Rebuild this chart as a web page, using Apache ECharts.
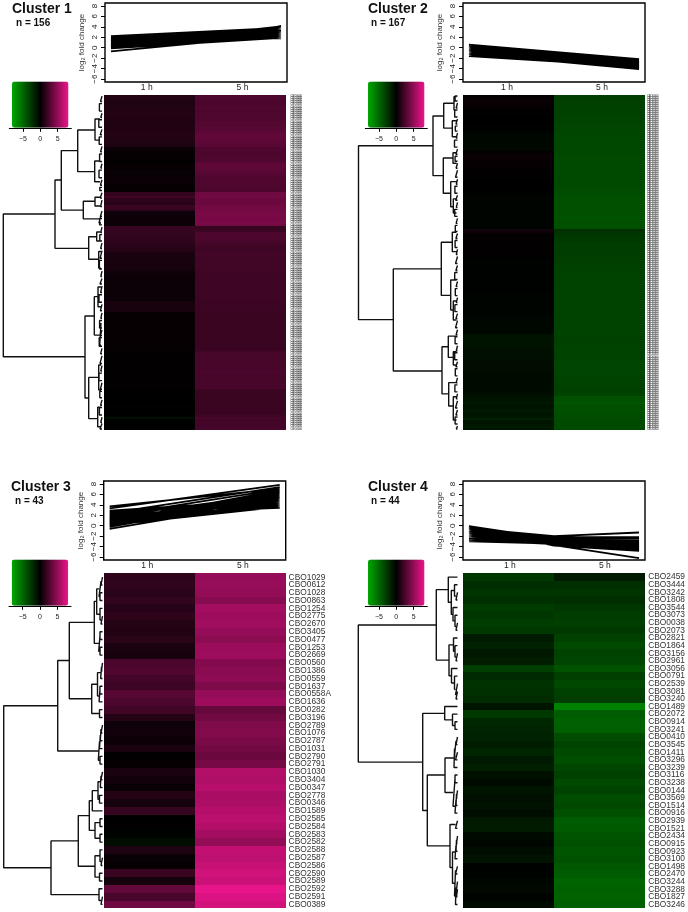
<!DOCTYPE html>
<html>
<head>
<meta charset="utf-8">
<style>
  html, body { margin: 0; padding: 0; background: #fff; }
  #main { width: 688px; height: 912px; }
</style>
<script src="https://cdn.jsdelivr.net/npm/echarts@6/dist/echarts.min.js"></script>
</head>
<body>
<div id="main"></div>
<script>
const hours = ['1 h', '5 h'];
const yTicks = [-6, -4, -2, 0, 2, 4, 6, 8];
const keyTicks = [-5, 0, 5];

// log2 fold change per gene, top row of the heatmap first
const c1Hour1 = [
  1.1,1.1,1.1,1.0,1.0,1.1,1.1,1.1,1.2,1.2,
  1.1,1.1,1.0,1.0,1.1,1.1,1.1,1.2,1.2,1.1,
  1.1,1.1,1.0,1.0,0.3,0.3,0.2,0.2,0.2,0.2,
  0.1,0.1,0.2,0.2,0.2,0.3,0.3,0.3,0.4,0.4,
  0.3,0.3,0.2,0.2,0.2,1.7,1.7,2.2,1.5,1.5,
  1.3,1.9,1.9,1.6,0.5,0.5,0.5,0.4,0.4,0.4,
  0.4,1.8,1.8,1.8,1.7,1.7,1.6,1.6,1.5,1.5,
  1.4,1.3,1.3,0.9,0.9,0.9,0.8,0.8,0.8,0.8,
  0.8,0.7,0.5,0.5,0.4,0.4,0.4,0.4,0.4,0.4,
  0.4,0.4,0.4,0.4,0.4,0.4,0.8,0.8,0.8,0.8,
  0.8,0.2,0.2,0.2,0.2,0.2,0.2,0.2,0.2,0.2,
  0.2,0.2,0.2,0.2,0.2,0.2,0.2,0.2,0.2,0.1,
  0.1,0.1,0.1,0.1,0.1,0.1,0.1,0.1,0.1,0.1,
  0.1,0.1,0.1,0.1,0.1,0.1,0.1,0.0,0.0,0.0,
  0.0,0.0,0.0,0.0,-0.1,-0.1,0.0,0.0,-0.1,-0.1,
  -0.7,-0.1,0.0,0.0,0.0,0.0
];
const c1Hour5 = [
  2.6,2.6,2.6,2.5,2.5,2.7,2.7,2.6,2.6,2.7,
  2.7,2.7,2.8,2.8,2.8,2.9,3.0,3.2,3.3,3.3,
  3.2,3.2,3.1,3.0,2.7,2.7,2.6,2.6,2.6,2.7,
  2.7,3.1,3.2,3.2,3.1,3.1,2.9,2.8,2.7,2.7,
  2.7,2.7,2.7,2.6,2.6,3.7,3.7,3.8,3.6,3.6,
  3.6,3.8,3.8,3.9,4.0,4.1,4.0,4.0,4.0,4.1,
  3.9,1.8,1.9,2.0,2.6,2.6,2.6,2.5,2.4,2.3,
  2.2,2.1,2.2,2.3,2.3,2.2,2.2,2.2,2.2,2.2,
  2.2,2.2,2.1,2.1,2.1,2.1,2.1,2.1,2.1,2.1,
  2.1,2.1,2.1,2.1,2.1,2.0,2.0,2.0,2.0,2.0,
  2.0,1.9,1.9,1.9,1.9,1.9,1.9,1.9,1.9,1.9,
  1.9,1.9,1.9,1.9,1.9,1.9,1.9,1.9,1.9,2.3,
  2.4,2.4,2.4,2.4,2.4,2.4,2.4,2.4,2.5,2.5,
  2.4,2.4,2.4,2.4,2.4,2.4,2.4,1.9,1.9,1.9,
  1.9,1.9,1.9,1.9,1.9,1.9,1.9,1.9,1.9,2.2,
  2.4,2.3,2.3,2.3,2.3,2.4
];
const c2Hour1 = [
  0.1,0.2,0.3,0.3,0.2,0.2,0.1,0.1,0.1,0.1,
  0.0,0.0,0.0,0.0,0.0,-0.1,-0.1,-0.1,-0.2,-0.3,
  -0.3,-0.3,-0.3,-0.3,-0.3,-0.3,-0.3,-0.3,0.1,0.2,
  0.3,0.3,0.2,0.2,0.2,0.2,0.2,0.1,0.1,0.1,
  0.1,0.1,0.0,0.0,0.0,0.0,0.0,0.0,-0.1,-0.1,
  -0.2,-0.2,-0.2,-0.2,-0.2,-0.2,-0.2,-0.2,-0.2,-0.2,
  -0.2,-0.2,-0.2,-0.2,-0.2,-0.2,-0.2,0.6,0.5,0.2,
  0.1,0.1,0.1,0.1,0.1,0.1,0.1,0.1,0.1,0.1,
  0.0,0.0,-0.1,-0.1,-0.1,-0.1,-0.1,-0.1,-0.1,-0.1,
  -0.1,-0.1,-0.1,-0.1,-0.1,-0.1,-0.1,-0.1,-0.2,-0.2,
  -0.2,-0.2,-0.2,-0.2,-0.2,-0.2,-0.2,-0.2,-0.2,-0.2,
  -0.3,-0.3,-0.3,-0.3,-0.3,-0.3,-0.3,-0.3,-0.3,-0.8,
  -0.9,-0.9,-0.9,-0.9,-1.0,-0.8,-0.8,-0.7,-0.7,-0.7,
  -0.7,-0.7,-0.6,-0.6,-0.6,-0.6,-0.6,-0.6,-0.5,-0.5,
  -0.5,-0.5,-0.5,-0.5,-0.5,-0.5,-0.5,-0.5,-0.6,-0.7,
  -0.9,-0.9,-1.0,-1.1,-1.0,-0.9,-1.0,-1.2,-1.0,-1.0,
  -1.1,-1.6,-1.0,-1.0,-1.1,-1.3,-1.0
];
const c2Hour5 = [
  -3.0,-3.0,-3.0,-3.1,-3.1,-3.1,-3.1,-3.1,-3.1,-3.1,
  -3.2,-3.2,-3.2,-3.2,-3.3,-3.3,-3.3,-3.3,-3.3,-3.3,
  -3.4,-3.4,-3.4,-3.4,-3.4,-3.4,-3.4,-3.4,-3.4,-3.4,
  -3.5,-3.5,-3.5,-3.5,-3.5,-3.5,-3.5,-3.5,-3.5,-3.5,
  -3.5,-3.5,-3.5,-3.5,-3.5,-3.5,-3.6,-3.6,-3.6,-3.6,
  -3.8,-3.8,-3.8,-3.8,-3.8,-3.8,-3.8,-3.8,-3.8,-3.8,
  -3.9,-4.0,-3.8,-3.8,-3.8,-3.8,-3.8,-2.2,-2.4,-2.6,
  -2.6,-2.7,-2.7,-2.8,-2.9,-2.9,-2.9,-2.9,-2.9,-2.9,
  -3.0,-3.0,-3.0,-3.0,-3.1,-3.1,-3.1,-3.1,-3.1,-3.2,
  -3.2,-3.2,-3.2,-3.2,-3.2,-3.2,-3.2,-3.2,-3.2,-3.2,
  -3.2,-3.2,-3.2,-3.2,-3.2,-3.2,-3.2,-3.2,-3.2,-3.2,
  -3.2,-3.2,-3.2,-3.2,-3.2,-3.2,-3.2,-3.2,-3.2,-3.2,
  -3.1,-3.1,-3.1,-3.1,-3.1,-3.2,-3.2,-3.2,-3.2,-3.2,
  -3.2,-3.2,-3.3,-3.3,-3.3,-3.3,-3.3,-3.3,-3.3,-3.3,
  -3.2,-3.2,-3.2,-3.2,-3.2,-3.2,-3.1,-3.1,-3.2,-3.2,
  -3.8,-3.9,-3.9,-4.1,-3.9,-3.8,-3.8,-3.8,-3.7,-3.7,
  -3.6,-3.6,-3.5,-3.5,-3.5,-3.5,-3.5
];
const c3Hour1 = [1.5,1.6,1.4,1.7,1.3,1.5,1.2,1.1,1.4,0.9,0.8,2.5,2.7,2.3,2.0,2.9,2.6,2.2,1.2,0.5,0.6,0.4,
  0.9,0.1,0.2,0.9,0.6,0.3,1.2,0.7,1.8,0.0,0.1,-0.2,-0.6,1.0,0.3,0.2,1.9,0.7,3.3,2.4,3.7];
const c3Hour5 = [5.0,5.1,4.9,4.5,5.5,5.3,5.4,5.0,4.7,5.2,5.3,4.4,4.6,4.8,4.2,5.0,5.3,3.4,3.8,4.3,4.4,4.1,
  3.9,3.6,4.0,6.0,5.9,6.2,5.7,5.8,6.1,6.3,6.0,5.5,4.9,6.5,6.4,6.7,7.0,6.8,7.8,7.4,7.1];
const c4Hour1 = [-2.6,-2.2,-2.5,-2.3,-2.8,-2.6,-2.9,-2.7,-1.3,-1.6,-1.1,-1.4,-3.0,-2.0,-2.4,-2.3,-2.1,-1.0,-2.7,
  -1.9,-1.7,-1.6,-1.4,-1.8,-1.2,-1.5,-0.8,-0.5,-1.0,-0.7,-0.9,-0.6,-1.2,-1.3,-0.5,-0.3,-0.6,-0.9,-0.1,-0.2,-0.3,-0.4,-0.2,-0.5];
// the cluster 4 lines bend half way along the plot
const c4Middle = [-2.0,-2.3,-2.6,-2.2,-2.7,-2.9,-3.3,-2.8,-2.1,-2.5,-2.0,-2.3,-3.4,-2.6,-2.9,-2.7,-2.5,-3.7,-3.5,
  -3.1,-2.9,-2.6,-2.2,-2.8,-2.4,-2.5,-2.1,-2.0,-2.3,-2.4,-2.6,-2.3,-3.0,-3.2,-2.7,-2.4,-2.8,-3.0,-2.5,-2.7,-3.8,-3.1,-3.3,-2.9];
const c4Hour5 = [-1.3,-2.3,-2.5,-2.2,-2.6,-2.8,-3.0,-2.7,-3.1,-3.5,-3.2,-3.3,-3.9,-3.0,-3.4,-3.1,-2.9,-6.2,-4.4,
  -4.6,-4.5,-3.6,-3.2,-3.5,-3.7,-3.3,-3.1,-3.5,-3.2,-3.6,-3.4,-3.8,-4.4,-4.3,-4.0,-3.8,-4.1,-3.9,-4.2,-4.4,-4.8,-4.6,-4.7,-4.5];

const c3Genes = ['CBO1029','CBO0612','CBO1028','CBO0863','CBO1254','CBO2775','CBO2670','CBO3405','CBO0477','CBO1253','CBO2669',
  'CBO0560','CBO1386','CBO0559','CBO1637','CBO0558A','CBO1636','CBO0282','CBO3196','CBO2789','CBO1076','CBO2787','CBO1031',
  'CBO2790','CBO2791','CBO1030','CBO3404','CBO0347','CBO2778','CBO0346','CBO1589','CBO2585','CBO2584','CBO2583','CBO2582',
  'CBO2588','CBO2587','CBO2586','CBO2590','CBO2589','CBO2592','CBO2591','CBO0389'];
const c4Genes = ['CBO2459','CBO3444','CBO3242','CBO1808','CBO3544','CBO3073','CBO0038','CBO2073','CBO2821','CBO1864','CBO3156',
  'CBO2961','CBO3056','CBO0791','CBO2539','CBO3081','CBO3240','CBO1489','CBO2072','CBO0914','CBO3241','CBO0410','CBO3545',
  'CBO1411','CBO3296','CBO3239','CBO3116','CBO3238','CBO0144','CBO3569','CBO1514','CBO0916','CBO2939','CBO1521','CBO2434',
  'CBO0915','CBO0923','CBO3100','CBO1498','CBO2470','CBO3244','CBO3288','CBO1827','CBO3246'];
// gene ids of clusters 1 and 2 are not legible at this size
const tinyGene = 'CBO0000';

// dendrogram merges: [height, row of child A, row of child B, height of A, height of B]
const c1Merges = [
  [98.7,55.4,121.9,47,17],[47,39.6,71.4,40.7,13.3],[40.7,25.9,53.6,24.3,18.7],[24.3,16.3,35.7,7,7.3],
  [7,11.2,21,2,2],[7.3,30.7,40.4,2,2],[18.7,49.5,57.7,7,3],[7,47.6,51.7,1,1],[3,55.9,59.6,1,1],
  [13.3,66,76.5,5.3,3.3],[5.3,63.8,68,1,1],[3.3,72.9,80.6,1,1],[17,102.9,141.1,7.7,13.3],[7.7,93.9,111.8,4,2.3],
  [4,89.4,98.6,1,1],[2.3,106.2,116.4,1,1],[13.3,131.5,150.7,3.3,4.3],[3.3,125.7,137.4,1,1],[4.3,145.4,154.5,1,1],
  [1.5,0.5,3,0,0],[2.6,4,7.5,0,0],[1.2,8.5,10.5,0,0],[3.2,11.5,15,0,0],[1.8,16,18.5,0,0],[2.8,19.5,23,0,0],
  [1.4,24,26.5,0,0],[2.4,27.5,31,0,0],[1.2,32,34,0,0],[3,35,38.5,0,0],[1.6,39.5,42,0,0],[2.2,43,44.5,0,0],
  [1.8,45.5,48,0,0],[1.4,49,52,0,0],[1.6,54,56.5,0,0],[2.4,57.5,60.5,0,0],[1.2,61.5,64,0,0],[2.2,65,68,0,0],
  [1.4,69,71.5,0,0],[1.8,72.5,76,0,0],[2.6,77,81,0,0],[1.2,82,84.5,0,0],[2,85.5,88,0,0],[1.4,89,92,0,0],
  [3,93,96.5,0,0],[1.6,97.5,100.5,0,0],[1.2,101.5,104,0,0],[2.4,105,108.5,0,0],[1.6,109.5,112,0,0],[2.8,113,117,0,0],
  [1.4,118,120.5,0,0],[2,121.5,125,0,0],[1.2,126,128.5,0,0],[3,129.5,133,0,0],[1.6,134,137,0,0],[2.2,138,141,0,0],
  [1.4,142,144.5,0,0],[2.6,145.5,149,0,0],[1.2,150,152.5,0,0],[2,153,155.5,0,0]
];
const c2Merges = [
  [99,25.3,112,24.5,64.2],[24.5,10.5,40.2,13.8,14.2],[13.8,4.1,16.5,3.5,5.2],[3.5,0.8,7.5,1,1],[5.2,12.8,20.8,1,1],
  [14.2,31.4,49,4.5,6.8],[4.5,28.8,34,1,1],[6.8,43.2,55.7,1,4.2],[4.2,51.8,58.8,1,1],
  [64.2,86.7,137.6,16.2,15.5],[16.2,73.4,99.9,5.2,6.8],[5.2,68.4,78.1,1,1],[6.8,92.2,107.2,1,4.2],[4.2,102.7,112.2,1,1],
  [15.5,125.5,149,9.2,8.8],[9.2,120.2,130.8,1,4.2],[4.2,128,134.6,1,1],[8.8,143.4,155,1,4.2],[4.2,150.4,162,1,1],
  [2.4,0.5,3,0,0],[1.4,4,6.5,0,0],[2.8,7.5,11,0,0],[1.6,12,14.5,0,0],[2.2,15.5,18,0,0],[1.2,19,21.5,0,0],
  [3,22.5,26,0,0],[1.6,27,29.5,0,0],[2.4,30.5,33,0,0],[1.4,34,36.5,0,0],[2,37.5,41,0,0],[1.2,42,44.5,0,0],
  [2.6,45.5,49,0,0],[1.8,50,52.5,0,0],[1.2,53.5,56,0,0],[2.8,57,60.5,0,0],[1.4,61.5,64,0,0],[2.2,65,68,0,0],
  [1.6,69,71.5,0,0],[2.4,72.5,76,0,0],[1.2,77,79.5,0,0],[2,80.5,84,0,0],[1.6,85,87.5,0,0],[2.8,88.5,92,0,0],
  [1.4,93,95.5,0,0],[2.2,96.5,100,0,0],[1.2,101,103.5,0,0],[2.6,104.5,108,0,0],[1.6,109,111.5,0,0],[2,112.5,116,0,0],
  [1.4,117,119.5,0,0],[2.4,120.5,124,0,0],[1.2,125,127.5,0,0],[2.8,128.5,132,0,0],[1.6,133,135.5,0,0],[2.2,136.5,140,0,0],
  [1.4,141,143.5,0,0],[2.6,144.5,148,0,0],[1.2,149,151.5,0,0],[2,152.5,156,0,0],[1.6,157,159.5,0,0],[2.4,160.5,164,0,0],
  [1.2,165,166.5,0,0]
];
const c3Merges = [
  [98.8,17,37.8,44.8,51.5],[44.8,11.2,22.8,33.2,4.2],[33.2,6.3,16.1,8.2,10.8],[8.2,3.6,9,5.8,3.8],
  [5.8,2,5.25,3.5,2.5],[3.5,1,3,1.5,2.5],[1.5,0.5,1.5,0,0],[2.5,2.5,3.5,0,0],[2.5,4.5,6,0,1.5],[1.5,5.5,6.5,0,0],
  [3.8,8,10,2.5,2.5],[2.5,7.5,8.5,0,0],[2.5,9.5,10.5,0,0],
  [10.8,14.25,18,5,3],[5,12.75,15.75,1.8,3.4],[1.8,12,13.5,1,0],[1,11.5,12.5,0,0],[3.4,15,16.5,2.6,0],[2.6,14.5,15.5,0,0],[3,17.5,18.5,0,0],
  [4.2,21.6,24,3,2.5],[3,20.75,22.5,2.2,0],[2.2,20,21.5,1.5,0],[1.5,19.5,20.5,0,0],[2.5,23.5,24.5,0,0],
  [51.5,34.35,41.25,24.2,3.5],[24.2,31.1,37.6,13.2,7.5],[13.2,29.2,33,10.2,7.5],[10.2,27.9,30.5,4.5,0],
  [4.5,26.75,29,2.2,3],[2.2,26,27.5,1.5,0],[1.5,25.5,26.5,0,0],[3,28.5,29.5,0,0],
  [7.5,32,34,2.5,2.5],[2.5,31.5,32.5,0,0],[2.5,33.5,34.5,0,0],
  [7.5,36.25,39,2.5,3],[2.5,35.5,37,0,1.5],[1.5,36.5,37.5,0,0],[3,38.5,39.5,0,0],
  [3.5,40.5,42,0,1.5],[1.5,41.5,42.5,0,0]
];
const c4Merges = [
  [99.2,6.8,24.8,21.2,34.8],[21.2,2.15,11.4,9.2,8.5],[9.2,0.5,3.8,0,6.2],[6.2,2.25,5.4,3,4.5],[3,1.5,3,0,1.5],[1.5,2.5,3.5,0,0],
  [4.5,4.5,6.25,0,2.5],[2.5,5.5,7,0,1.5],[1.5,6.5,7.5,0,0],
  [8.5,9.4,13.45,4,6],[4,8.5,10.25,0,2.5],[2.5,9.5,11,0,1.5],[1.5,10.5,11.5,0,0],
  [6,12.5,14.4,0,3],[3,13.5,15.25,0,2],[2,14.5,16,0,1.5],[1.5,15.5,16.5,0,0],
  [34.8,18.4,31.15,12.8,30.2],[12.8,17.5,19.25,0,5],[5,18.5,20,0,2.5],[2.5,19.5,20.5,0,0],
  [30.2,26.5,35.8,12.5,7.5],[12.5,24.25,28.8,3.5,4.5],[3.5,23,25.5,3,0],[3,22,24,1.5,2],[1.5,21.5,22.5,0,0],[2,23.5,24.5,0,0],
  [4.5,27,30.6,2.5,2.5],[2.5,26.5,27.5,0,0],[2.5,29.75,31.5,1.5,0],[1.5,29,30.5,1,0],[1,28.5,29.5,0,0],
  [7.5,33,38.65,2,5],[2,32.5,33.5,0,0],[5,36.6,40.7,2.5,3],[2.5,35.75,37.5,1.5,0],[1.5,35,36.5,1,0],[1,34.5,35.5,0,0],
  [3,39,42.4,2,2],[2,38.5,39.5,0,0],[2,41.25,43.5,1.5,0],[1.5,40.5,42,0,1],[1,41.5,42.5,0,0]
];

const panels = [
  {name:'Cluster 1', n:'n = 156', hour1:c1Hour1, hour5:c1Hour5, genes:null, merges:c1Merges,
    titleX:12, titleY:2, nX:16, nY:18, lineX:105, lineY:3, lineW:182, heatX:104, heatY:95, heatW:181.6,
    keyX:12, keyY:81.5, leafX:102, labelGap:5, shift:[-2.7,2.3]},
  {name:'Cluster 2', n:'n = 167', hour1:c2Hour1, hour5:c2Hour5, genes:null, merges:c2Merges,
    titleX:368, titleY:2, nX:371, nY:18, lineX:463, lineY:3, lineW:182, heatX:463, heatY:95, heatW:182,
    keyX:368, keyY:81.5, leafX:457.5, labelGap:2, shift:[-1.5,2.5]},
  {name:'Cluster 3', n:'n = 43', hour1:c3Hour1, hour5:c3Hour5, genes:c3Genes, merges:c3Merges,
    titleX:11, titleY:480, nX:15, nY:496, lineX:103.7, lineY:481, lineW:182, heatX:104, heatY:573.3, heatW:181.6,
    keyX:11.7, keyY:559.5, leafX:102.5, labelGap:3, shift:[-2.2,2.7]},
  {name:'Cluster 4', n:'n = 44', hour1:c4Hour1, middle:c4Middle, hour5:c4Hour5, genes:c4Genes, merges:c4Merges,
    titleX:368, titleY:480, nX:371, nY:496, lineX:463, lineY:481, lineW:182, heatX:463, heatY:573.3, heatW:182,
    keyX:368, keyY:559.5, leafX:457.5, labelGap:3.5, shift:[1.5,5.5]}
];

const fontFamily = '"Liberation Sans", Arial, sans-serif';
const textColor = '#222';
const heatColors = ['#00a800', '#000000', '#ee148c'];

function hourLabel(shift) {
  // rich padding nudges each column title off the centre of its column
  let pad = (dx) => dx < 0 ? [0, -2 * dx, 0, 0] : [0, 0, 0, 2 * dx];
  return {
    fontFamily: fontFamily, fontSize: 8.5, color: textColor, margin: 3, interval: 0,
    formatter: (v) => v === hours[0] ? '{a|' + v + '}' : '{b|' + v + '}',
    rich: {
      a: {fontFamily: fontFamily, fontSize: 8.5, color: textColor, padding: pad(shift[0])},
      b: {fontFamily: fontFamily, fontSize: 8.5, color: textColor, padding: pad(shift[1])}
    }
  };
}

// heatmap cell snapped to whole pixels, type heatmap leaves pale seams between thin rows
function renderCell(params, api) {
  let c = api.coord([api.value(0), api.value(1)]);
  let s = api.size([1, 1]);
  let x0 = Math.round(c[0] - s[0] / 2), x1 = Math.round(c[0] + s[0] / 2);
  let y0 = Math.round(c[1] - s[1] / 2), y1 = Math.round(c[1] + s[1] / 2);
  return {
    type: 'rect',
    shape: {x: x0, y: y0, width: x1 - x0, height: y1 - y0},
    style: {fill: api.visual('color')}
  };
}

function buildOption() {
  let title = [], grid = [], xAxis = [], yAxis = [], series = [], visualMap = [];

  let addGrid = (g, x, y) => {
    grid.push(g);
    x.gridIndex = grid.length - 1;
    y.gridIndex = grid.length - 1;
    xAxis.push(x);
    yAxis.push(y);
    return grid.length - 1;
  };

  panels.forEach((p) => {
    let rows = p.hour1.map((v, i) => String(i));

    title.push({text: p.name, left: p.titleX, top: p.titleY, padding: 0,
      textStyle: {fontFamily: fontFamily, fontSize: 14, fontWeight: 'bold', color: '#111'}});
    title.push({text: p.n, left: p.nX, top: p.nY, padding: 0,
      textStyle: {fontFamily: fontFamily, fontSize: 10, fontWeight: 'bold', color: '#111'}});

    // fold change lines, one per gene, from the same values as the heatmap
    let linePts = [];
    p.hour1.forEach((v, i) => {
      linePts.push([1, v]);
      if (p.middle) linePts.push([1.5, p.middle[i]]);
      linePts.push([2, p.hour5[i]], ['-', '-']);
    });
    let lineGrid = addGrid(
      {left: p.lineX, top: p.lineY, width: p.lineW, height: 79, show: true, borderColor: '#000', borderWidth: 1.4, backgroundColor: '#fff'},
      {type: 'value', min: 0.965, max: 2.035, show: false},
      {type: 'value', min: -6.56, max: 8.56, splitLine: {show: false},
        name: 'log\u2082 fold change', nameLocation: 'middle', nameGap: 19,
        nameTextStyle: {fontFamily: fontFamily, fontSize: 8, color: '#333'},
        axisLine: {show: false},
        axisTick: {show: true, length: 4, customValues: yTicks, lineStyle: {color: '#000', width: 1}},
        axisLabel: {customValues: yTicks, rotate: 90, margin: 6, fontFamily: fontFamily, fontSize: 8, color: textColor,
          formatter: (v) => String(v).replace('-', '\u2212')}}
    );
    series.push({type: 'line', xAxisIndex: lineGrid, yAxisIndex: lineGrid, data: linePts, showSymbol: false, symbol: 'none',
      lineStyle: {color: '#000', width: 1.8}, silent: true});

    // heatmap
    let cells = [];
    p.hour1.forEach((v, i) => {
      cells.push([0, i, v]);
      cells.push([1, i, p.hour5[i]]);
    });
    let tiny = !p.genes;
    let heatGrid = addGrid(
      {left: p.heatX, top: p.heatY, width: p.heatW, height: 335},
      {type: 'category', position: 'top', data: hours, axisLine: {show: false}, axisTick: {show: false}, splitLine: {show: false},
        axisLabel: hourLabel(p.shift)},
      {type: 'category', position: 'right', inverse: true, data: rows, axisLine: {show: false}, axisTick: {show: false}, splitLine: {show: false},
        axisLabel: {interval: 0, margin: p.labelGap, fontFamily: fontFamily, fontSize: tiny ? 2.6 : 8.4, color: tiny ? '#000' : '#333',
          formatter: (v, i) => tiny ? tinyGene : p.genes[i]}}
    );
    // the visual map of each panel is its colour key
    visualMap.push({type: 'continuous', orient: 'horizontal', left: p.keyX, top: p.keyY, itemWidth: 46.3, itemHeight: 56.5,
      padding: 0, min: -8, max: 8, dimension: 2, seriesIndex: series.length, calculable: false, hoverLink: false,
      inRange: {color: heatColors}});
    series.push({type: 'custom', renderItem: renderCell, xAxisIndex: heatGrid, yAxisIndex: heatGrid, data: cells,
      encode: {x: 0, y: 1}, silent: true, progressive: 0, clip: false});

    // dendrogram, height 0 at the heatmap side
    let treePts = [];
    p.merges.forEach((m) => {
      treePts.push([m[3], m[1]], [m[0], m[1]], [m[0], m[2]], [m[4], m[2]], ['-', '-']);
    });
    let treeGrid = addGrid(
      {left: p.leafX - 100, top: p.heatY, width: 100, height: 335},
      {type: 'value', min: 0, max: 100, inverse: true, show: false},
      {type: 'value', min: 0, max: p.hour1.length, inverse: true, show: false}
    );
    series.push({type: 'line', xAxisIndex: treeGrid, yAxisIndex: treeGrid, data: treePts, showSymbol: false, symbol: 'none',
      lineStyle: {color: '#111', width: 1.4}, silent: true});

    // axis under the colour key
    addGrid(
      {left: p.keyX - 2.7, top: p.keyY + 45.3, width: 62, height: 1},
      {type: 'value', min: -8.93, max: 8.93, position: 'bottom', splitLine: {show: false},
        axisLine: {show: true, lineStyle: {color: '#000', width: 1}},
        axisTick: {show: true, length: 4, customValues: keyTicks, lineStyle: {color: '#000', width: 1}},
        axisLabel: {customValues: keyTicks, margin: 8, fontFamily: fontFamily, fontSize: 7, color: textColor,
          formatter: (v) => String(v).replace('-', '\u2212')}},
      {type: 'value', min: 0, max: 1, show: false}
    );
  });

  return {
    animation: false,
    backgroundColor: '#fff',
    title: title,
    grid: grid,
    xAxis: xAxis,
    yAxis: yAxis,
    visualMap: visualMap,
    series: series
  };
}

let chart = echarts.init(document.getElementById('main'), null, {renderer: 'canvas'});
chart.setOption(buildOption());
</script>
</body>
</html>
